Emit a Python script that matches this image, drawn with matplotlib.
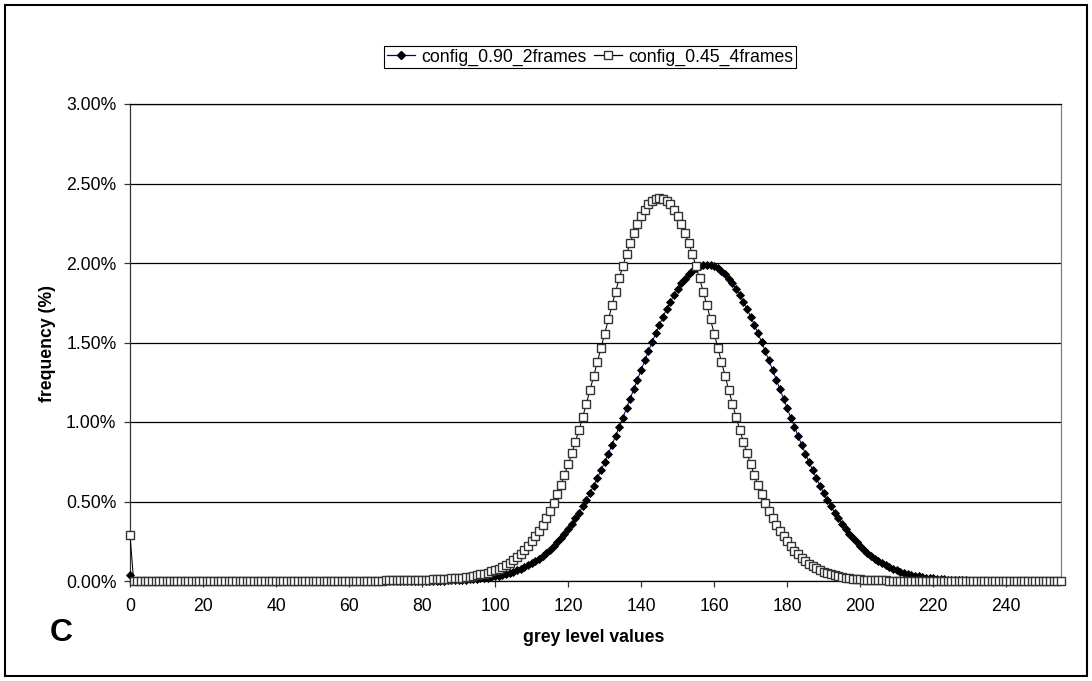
import numpy as np
import matplotlib
matplotlib.use("Agg")
import matplotlib.pyplot as plt
from matplotlib.patches import Rectangle
from matplotlib.lines import Line2D
from matplotlib.ticker import PercentFormatter, MultipleLocator

plt.rcParams.update({
    "font.family": ["Liberation Sans", "DejaVu Sans"],
    "figure.facecolor": "white", "axes.facecolor": "white",
})

W, H = 1092, 681
DARK = "#333333"; NAVY = "#000080"; GREY = "#808080"
FS = 12.7

# grey level categories 0..255
grey_levels = np.arange(256)

# frequency (%) per grey level
freq_090_2frames = [
    0.04, 0, 0, 0, 0, 0, 0, 0, 0, 0,                                   # 0
    0, 0, 0, 0, 0, 0, 0, 0, 0, 0,                                      # 10
    0, 0, 0, 0, 0, 0, 0, 0, 0, 0,                                      # 20
    0, 0, 0, 0, 0, 0, 0, 0, 0, 0,                                      # 30
    0, 0, 0, 0, 0, 0, 0, 0, 0, 0,                                      # 40
    0, 0, 0, 0, 0, 0, 0, 0, 0, 0,                                      # 50
    0, 0, 0, 0, 0, 0, 0, 0, 0, 0,                                      # 60
    0, 0, 0, 0, 0, 0, 0, 0, 0.001, 0.001,                              # 70
    0.001, 0.001, 0.001, 0.002, 0.002, 0.003, 0.003, 0.004, 0.004, 0.005,  # 80
    0.006, 0.007, 0.009, 0.010, 0.012, 0.014, 0.016, 0.019, 0.022, 0.026,  # 90
    0.030, 0.034, 0.039, 0.045, 0.052, 0.059, 0.068, 0.077, 0.087, 0.099,  # 100
    0.112, 0.126, 0.141, 0.158, 0.177, 0.197, 0.219, 0.243, 0.269, 0.297,  # 110
    0.327, 0.359, 0.394, 0.430, 0.469, 0.510, 0.553, 0.599, 0.646, 0.696,  # 120
    0.747, 0.800, 0.855, 0.911, 0.969, 1.027, 1.087, 1.147, 1.207, 1.267,  # 130
    1.327, 1.387, 1.445, 1.502, 1.558, 1.611, 1.662, 1.711, 1.756, 1.798,  # 140
    1.837, 1.872, 1.902, 1.929, 1.951, 1.968, 1.980, 1.988, 1.990, 1.988,  # 150
    1.980, 1.968, 1.951, 1.929, 1.902, 1.872, 1.837, 1.798, 1.756, 1.711,  # 160
    1.662, 1.611, 1.558, 1.502, 1.445, 1.387, 1.327, 1.267, 1.207, 1.147,  # 170
    1.087, 1.027, 0.969, 0.911, 0.855, 0.800, 0.747, 0.696, 0.646, 0.599,  # 180
    0.553, 0.510, 0.469, 0.430, 0.394, 0.359, 0.327, 0.297, 0.269, 0.243,  # 190
    0.219, 0.197, 0.177, 0.158, 0.141, 0.126, 0.112, 0.099, 0.087, 0.077,  # 200
    0.068, 0.059, 0.052, 0.045, 0.039, 0.034, 0.030, 0.026, 0.022, 0.019,  # 210
    0.016, 0.014, 0.012, 0.010, 0.009, 0.007, 0.006, 0.005, 0.004, 0.004,  # 220
    0.003, 0.003, 0.002, 0.002, 0.001, 0.001, 0.001, 0.001, 0.001, 0,      # 230
    0, 0, 0, 0, 0, 0, 0, 0, 0, 0,                                      # 240
    0, 0, 0, 0, 0, 0,                                                  # 250
]

freq_045_4frames = [
    0.29, 0.001, 0.001, 0.001, 0.001, 0.001, 0.001, 0.001, 0.001, 0.001,      # 0
    0.001, 0.001, 0.001, 0.001, 0.001, 0.001, 0.001, 0.001, 0.001, 0.001,     # 10
    0.001, 0.001, 0.001, 0.001, 0.001, 0.001, 0.001, 0.001, 0.001, 0.001,     # 20
    0.001, 0.001, 0.001, 0.001, 0.001, 0.001, 0.001, 0.001, 0.001, 0.001,     # 30
    0.001, 0.001, 0.001, 0.001, 0.001, 0.001, 0.001, 0.001, 0.001, 0.001,     # 40
    0.001, 0.001, 0.001, 0.001, 0.001, 0.002, 0.002, 0.002, 0.002, 0.002,     # 50
    0.002, 0.002, 0.002, 0.002, 0.002, 0.003, 0.003, 0.003, 0.003, 0.003,     # 60
    0.004, 0.004, 0.004, 0.004, 0.004, 0.005, 0.005, 0.006, 0.006, 0.007,     # 70
    0.008, 0.008, 0.009, 0.010, 0.011, 0.012, 0.013, 0.014, 0.016, 0.018,     # 80
    0.020, 0.022, 0.025, 0.028, 0.032, 0.036, 0.041, 0.046, 0.053, 0.060,     # 90
    0.068, 0.078, 0.089, 0.101, 0.116, 0.132, 0.150, 0.171, 0.194, 0.220,     # 100
    0.249, 0.281, 0.316, 0.355, 0.397, 0.443, 0.493, 0.547, 0.605, 0.667,     # 110
    0.733, 0.802, 0.876, 0.952, 1.032, 1.115, 1.201, 1.288, 1.377, 1.466,     # 120
    1.556, 1.645, 1.734, 1.820, 1.903, 1.982, 2.057, 2.127, 2.190, 2.246,     # 130
    2.295, 2.336, 2.368, 2.391, 2.405, 2.410, 2.405, 2.391, 2.368, 2.336,     # 140
    2.295, 2.246, 2.190, 2.127, 2.057, 1.982, 1.903, 1.820, 1.734, 1.645,     # 150
    1.556, 1.466, 1.377, 1.288, 1.201, 1.115, 1.032, 0.952, 0.876, 0.802,     # 160
    0.733, 0.667, 0.605, 0.547, 0.493, 0.443, 0.397, 0.355, 0.316, 0.281,     # 170
    0.249, 0.218, 0.191, 0.167, 0.145, 0.126, 0.109, 0.094, 0.081, 0.069,     # 180
    0.059, 0.050, 0.042, 0.036, 0.030, 0.025, 0.021, 0.018, 0.015, 0.013,     # 190
    0.011, 0.009, 0.008, 0.007, 0.006, 0.005, 0.004, 0.004, 0.003, 0.003,     # 200
    0.002, 0.002, 0.002, 0.001, 0.001, 0.001, 0.001, 0.001, 0.001, 0.001,     # 210
    0.001, 0.001, 0.001, 0, 0, 0, 0, 0, 0, 0,                                 # 220
    0, 0, 0, 0, 0, 0, 0, 0, 0, 0,                                             # 230
    0, 0, 0, 0, 0, 0, 0, 0, 0, 0,                                             # 240
    0, 0, 0, 0, 0, 0,                                                         # 250
]

series_labels = ["config_0.90_2frames", "config_0.45_4frames"]
x_ticks = list(range(0, 241, 20))

fig = plt.figure(figsize=(W / 100, H / 100), dpi=100)
# plot area in pixels: x 130..1061, y 104..581
ax = fig.add_axes([130 / W, 1 - 581 / H, 931 / W, 477 / H])

ax.plot(grey_levels, freq_090_2frames, color=NAVY, lw=0.75, marker="D", ms=4.3,
        mfc="black", mec="black", mew=0.6, clip_on=False, zorder=3)
ax.plot(grey_levels, freq_045_4frames, color="black", lw=0.75, marker="s", ms=5.2,
        mfc="white", mec=DARK, mew=1.0, clip_on=False, zorder=4)

ax.set_xlim(0, 255); ax.set_ylim(0, 3.0)
ax.set_xticks(x_ticks)
ax.yaxis.set_major_locator(MultipleLocator(0.5))
ax.yaxis.set_major_formatter(PercentFormatter(xmax=100, decimals=2))
ax.yaxis.grid(True, color="black", lw=0.9)
ax.set_axisbelow(True)
ax.tick_params(axis="both", direction="out", length=4.3, width=0.9, color=DARK, labelsize=FS)
ax.tick_params(axis="y", pad=5.5)
ax.tick_params(axis="x", pad=8)
for side, col in (("left", DARK), ("bottom", "black"), ("top", "black"), ("right", GREY)):
    ax.spines[side].set_color(col)
    ax.spines[side].set_linewidth(0.9)

fig.text(47 / W, 1 - 343 / H, "frequency (%)", rotation=90, ha="center", va="center",
         fontsize=FS, fontweight="bold")
fig.text(594 / W, 1 - 638 / H, "grey level values", ha="center", va="center",
         fontsize=FS, fontweight="bold")
fig.text(61 / W, 1 - 633 / H, "C", ha="center", va="center", fontsize=23, fontweight="bold")

handles = [
    Line2D([], [], color=NAVY, lw=0.9, marker="D", ms=4.3, mfc="black", mec="black"),
    Line2D([], [], color="black", lw=0.9, marker="s", ms=5.2, mfc="white", mec=DARK, mew=1.0),
]
leg = fig.legend(handles, series_labels, loc="center", bbox_to_anchor=(590 / W, 1 - 57 / H),
                 ncol=2, fontsize=FS, frameon=True, fancybox=False, framealpha=1,
                 edgecolor="black", borderpad=0.15, handlelength=1.6, handletextpad=0.35,
                 columnspacing=0.45, borderaxespad=0)
leg.get_frame().set_linewidth(0.8)

fig.add_artist(Rectangle((5 / W, 5 / H), 1082 / W, 671 / H, transform=fig.transFigure,
                         fill=False, edgecolor="black", lw=1.5))

fig.savefig("out.png", dpi=100)
